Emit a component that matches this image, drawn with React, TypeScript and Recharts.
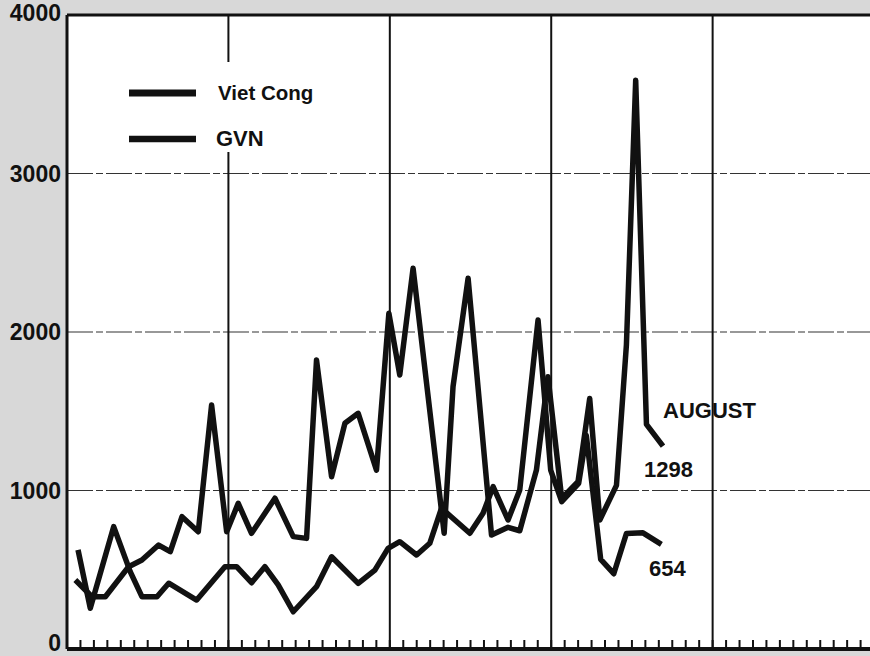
import React from 'react';
import { LineChart, Line, XAxis, YAxis, ReferenceLine, CartesianGrid, Legend, Customized } from 'recharts';

// Time axis: months counted from the start of the first year (year boundaries at 12, 24, 36, 48)
const vcMonths = [
  0.62, 1.86, 2.85, 4.58, 5.57, 6.81, 7.68, 8.55, 9.76, 10.75, 11.87,
  12.73, 13.72, 15.46, 16.82, 17.81, 18.55, 19.67, 20.66, 21.65, 23.01, 23.93,
  24.74, 25.73, 28.04, 28.7, 29.82, 31.56, 32.79, 33.66, 34.9, 35.76,
  36.78, 37.99, 38.86, 39.61, 40.85, 41.59, 42.28, 43.08, 44.31,
];
const vcValues = [
  435, 330, 330, 519, 561, 656, 614, 835, 740, 1539, 740,
  919, 730, 951, 709, 698, 1823, 1087, 1424, 1487, 1129, 2118,
  1729, 2402, 730, 1655, 2339, 719, 768, 746, 1129, 1718,
  950, 1055, 1580, 814, 1032, 1919, 3588, 1417, 1280,
];
const gvnMonths = [
  0.82, 1.73, 3.47, 4.7, 5.57, 6.69, 7.56, 9.64, 11.74,
  12.61, 13.72, 14.71, 15.7, 16.82, 18.55, 19.67, 21.65, 22.89, 23.87,
  24.74, 25.99, 26.97, 27.84, 29.95, 30.93, 31.68, 32.79, 33.66, 35.02, 35.96,
  36.78, 38.04, 38.61, 39.68, 40.65, 41.59, 42.82, 44.19,
];
const gvnValues = [
  625, 257, 772, 488, 330, 330, 415, 309, 519,
  519, 418, 519, 404, 235, 393, 582, 414, 498, 635,
  677, 593, 667, 888, 730, 856, 1024, 814, 1003, 2076, 1129,
  930, 1045, 1347, 565, 475, 729, 733, 660,
];

const yTicks = [0, 1000, 2000, 3000, 4000];
const gridValues = [1000, 2000, 3000];
const yearBoundaries = [12, 24, 36, 48];
const monthTicks = [
  1, 2, 3, 4, 5, 6, 7, 8, 9, 10, 11, 12, 13, 14, 15, 16, 17, 18, 19, 20,
  21, 22, 23, 24, 25, 26, 27, 28, 29, 30, 31, 32, 33, 34, 35, 36, 37, 38, 39, 40,
  41, 42, 43, 44, 45, 46, 47, 48, 49, 50, 51, 52, 53, 54, 55, 56, 57, 58, 59,
];
const seriesNames = ['Viet Cong', 'GVN'];
const monthLabel = 'AUGUST';
const vcEndLabel = '1298';
const gvnEndLabel = '654';

const vcData = vcMonths.map((m, i) => ({ m, v: vcValues[i] }));
const gvnData = gvnMonths.map((m, i) => ({ m, v: gvnValues[i] }));

const FONT = '"Liberation Sans", Arial, sans-serif';
const INK = '#111111';

const YTick = (props: any) => {
  const { x, y, payload } = props;
  const shift = payload.value === 0 ? -6 : payload.value === 4000 ? -2 : 0;
  return (
    <text x={x} y={y + shift} dy="0.36em" textAnchor="end" fontFamily={FONT} fontWeight={700} fontSize={23} fill={INK}>
      {payload.value}
    </text>
  );
};

const renderLegend = () => (
  <div style={{ position: 'absolute', left: 110, top: 62, width: 215, height: 90, background: '#ffffff' }}>
    <svg width={215} height={90} style={{ display: 'block' }}>
      <line x1={19} y1={31} x2={86} y2={31} stroke={INK} strokeWidth={7} />
      <text x={108} y={38} fontFamily={FONT} fontWeight={700} fontSize={20.5} fill={INK}>{seriesNames[0]}</text>
      <line x1={19} y1={77} x2={86} y2={77} stroke={INK} strokeWidth={6.5} />
      <text x={106} y={84} fontFamily={FONT} fontWeight={700} fontSize={22} fill={INK}>{seriesNames[1]}</text>
    </svg>
  </div>
);

const Annotations = () => (
  <g>
    <text x={663} y={418} fontFamily={FONT} fontWeight={700} fontSize={22} fill={INK}>{monthLabel}</text>
    <text x={644} y={477} fontFamily={FONT} fontWeight={700} fontSize={22} fill={INK}>{vcEndLabel}</text>
    <text x={649} y={576} fontFamily={FONT} fontWeight={700} fontSize={22} fill={INK}>{gvnEndLabel}</text>
  </g>
);

export default function App() {
  return (
    <div
      style={{
        position: 'absolute',
        left: 0,
        top: 0,
        width: 870,
        height: 656,
        background: '#d8d8d8',
        overflow: 'hidden',
      }}
    >
      <LineChart width={870} height={656} margin={{ top: 15, right: 0, bottom: 0, left: 0 }}>
        <CartesianGrid horizontal={false} vertical={false} fill="#ffffff" />
        <XAxis
          type="number"
          dataKey="m"
          domain={[0, 59.7]}
          allowDataOverflow
          ticks={monthTicks}
          interval={0}
          height={7}
          tickSize={-9}
          tickLine={{ stroke: INK, strokeWidth: 2 }}
          axisLine={{ stroke: INK, strokeWidth: 4 }}
          tick={() => <g />}
        />
        <YAxis
          type="number"
          domain={[0, 4000]}
          ticks={yTicks}
          interval={0}
          width={67}
          tickLine={false}
          tickSize={0}
          tickMargin={6}
          axisLine={{ stroke: INK, strokeWidth: 3 }}
          tick={<YTick />}
        />
        {gridValues.map((g) => (
          <ReferenceLine key={g} y={g} stroke="#333333" strokeWidth={1.2} strokeDasharray="26 3 7 3" />
        ))}
        <ReferenceLine y={4000} stroke={INK} strokeWidth={3} />
        {yearBoundaries.map((b) => (
          <ReferenceLine key={b} x={b} stroke={INK} strokeWidth={2} />
        ))}
        <Line
          data={vcData}
          dataKey="v"
          name={seriesNames[0]}
          type="linear"
          stroke={INK}
          strokeWidth={5.5}
          strokeLinejoin="round"
          dot={false}
          activeDot={false}
          isAnimationActive={false}
        />
        <Line
          data={gvnData}
          dataKey="v"
          name={seriesNames[1]}
          type="linear"
          stroke={INK}
          strokeWidth={5.5}
          strokeLinejoin="round"
          dot={false}
          activeDot={false}
          isAnimationActive={false}
        />
        <Legend
          layout="vertical"
          align="center"
          verticalAlign="middle"
          wrapperStyle={{ left: 0, top: 0, width: 870, height: 0 }}
          content={renderLegend}
        />
        <Customized component={Annotations} />
      </LineChart>
    </div>
  );
}
